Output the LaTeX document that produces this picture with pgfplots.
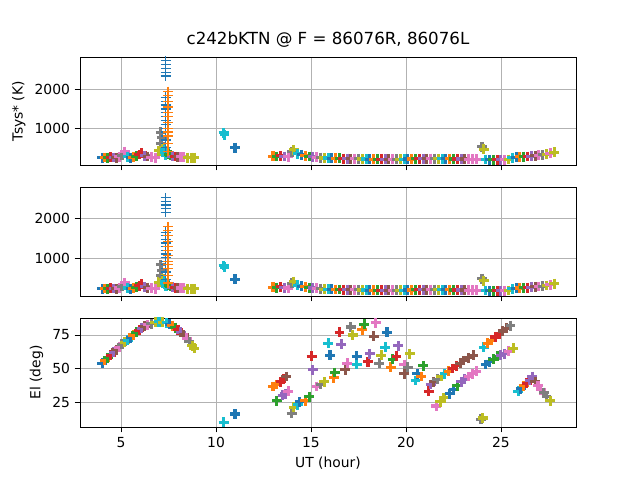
\documentclass[border=0pt]{standalone}
\usepackage{pgfplots}
\pgfplotsset{compat=1.18}
\usepackage{pgfplotstable}
\usepackage{fontspec}
\setmainfont{DejaVu Sans}
\definecolor{c0}{HTML}{1F77B4}\definecolor{c1}{HTML}{FF7F0E}\definecolor{c2}{HTML}{2CA02C}
\definecolor{c3}{HTML}{D62728}\definecolor{c4}{HTML}{9467BD}\definecolor{c5}{HTML}{8C564B}
\definecolor{c6}{HTML}{E377C2}\definecolor{c7}{HTML}{7F7F7F}\definecolor{c8}{HTML}{BCBD22}
\definecolor{c9}{HTML}{17BECF}
\pgfplotstableread{
x y c
4.0 240 c0
4.15 245 c1
4.3 240 c2
4.45 250 c3
4.6 245 c4
4.75 240 c5
4.9 260 c6
5.05 300 c7
5.2 400 c6
5.35 260 c9
5.5 240 c0
5.65 250 c1
5.8 280 c2
5.95 320 c3
6.1 360 c3
6.25 290 c4
6.4 270 c5
6.6 250 c6
6.8 240 c6
7.0 420 c8
7.1 600 c7
7.1 900 c7
7.15 750 c7
7.2 500 c8
7.3 380 c9
7.4 320 c9
7.35 300 c9
7.3 450 c9
7.5 330 c2
7.6 300 c2
7.7 280 c4
7.85 270 c3
8.0 260 c5
8.15 260 c6
8.3 250 c6
8.5 240 c8
8.7 240 c8
8.85 240 c8
7.35 500 t0
7.35 600 t0
7.35 700 t0
7.35 800 t0
7.35 900 t0
7.35 1000 t0
7.35 1100 t0
7.35 1200 t0
7.35 1300 t0
7.35 1400 t0
7.35 1500 t0
7.35 1600 t0
7.35 1700 t0
7.35 1800 t0
7.35 2350 t0
7.35 2450 t0
7.35 2550 t0
7.35 2650 t0
7.35 2750 t0
7.48 400 t1
7.48 600 t1
7.48 800 t1
7.48 900 t1
7.48 1000 t1
7.48 1150 t1
7.48 1300 t1
7.48 1400 t1
7.48 1550 t1
7.48 1700 t1
7.48 1850 t1
7.48 1950 t1
10.4 880 c9
10.45 830 c9
11.0 500 c0
13.0 280 c1
13.2 270 c2
13.4 290 c3
13.6 270 c4
13.8 260 c6
14.0 390 c7
14.1 440 c8
14.3 340 c9
14.5 310 c0
14.7 290 c1
14.9 270 c2
15.1 260 c4
15.3 250 c6
15.5 240 c7
15.7 230 c8
15.9 230 c9
16.1 225 c0
16.3 220 c1
16.5 220 c2
16.7 215 c3
16.9 215 c4
17.1 210 c5
17.3 210 c6
17.5 210 c7
17.7 205 c8
17.9 205 c9
18.1 200 c0
18.3 200 c1
18.5 200 c2
18.7 200 c3
18.9 200 c4
19.1 200 c5
19.3 200 c6
19.5 200 c7
19.7 200 c8
19.9 200 c9
20.1 205 c0
20.3 205 c1
20.5 210 c2
20.7 210 c3
20.9 215 c4
21.1 215 c5
21.3 215 c6
21.5 215 c7
21.7 210 c8
21.9 210 c9
22.1 210 c0
22.3 210 c1
22.5 205 c2
22.7 205 c3
22.9 205 c4
23.1 205 c5
23.3 200 c6
23.5 200 c6
23.7 200 c6
24.0 520 c7
24.1 460 c8
24.2 190 c9
24.4 185 c0
24.6 185 c2
24.8 185 c3
25.0 185 c4
25.2 185 c6
25.4 190 c8
25.6 240 c9
25.8 250 c0
26.0 260 c1
26.2 265 c2
26.4 270 c3
26.6 280 c4
26.8 290 c5
27.0 300 c6
27.2 310 c7
27.4 330 c8
27.6 350 c6
27.8 380 c8
}\tsys
\pgfplotstableread{
x y c
4.0 54 c0
4.15 56 c1
4.3 58 c2
4.45 60 c3
4.6 62 c4
4.75 64 c5
4.9 66 c6
5.05 68 c7
5.2 69.5 c8
5.35 71 c9
5.5 73 c0
5.65 75 c1
5.8 77 c2
5.95 78.5 c3
6.1 80 c4
6.25 81.5 c5
6.4 82.5 c6
6.6 83.5 c7
6.8 84.5 c8
7.0 85 c9
7.2 84.5 c8
7.4 84 c9
7.55 83 c0
7.7 82 c1
7.85 80.5 c2
8.0 79 c3
8.15 77 c4
8.3 75 c5
8.45 72.5 c6
8.6 70 c7
8.75 67 c8
8.85 65 c8
10.4 10 c9
11.0 16 c0
13.0 36.5 c1
13.2 38 c1
13.4 40 c3
13.55 42 c3
13.7 44 c5
13.2 26 c2
13.5 30 c4
13.65 31 c4
13.8 33 c6
13.98 16.5 c7
14.1 21 c8
14.3 23 c9
14.4 25 c0
14.7 26 c1
14.9 29 c2
15.03 59 c3
15.1 49 c4
15.3 36.5 c6
15.5 38 c7
15.7 40 c8
15.9 69 c9
16.0 60 c0
16.2 43 c1
16.25 47 c2
16.5 77 c3
16.6 68 c4
16.8 49 c5
16.9 54 c6
17.1 81 c7
17.2 75 c8
17.4 59 c0
17.4 53 c9
17.7 79 c1
17.8 83 c2
18.0 55 c3
18.1 61 c4
18.3 74 c5
18.4 84 c6
18.6 54 c7
18.7 60 c8
19.0 77 c0
18.9 66 c9
19.2 51 c1
19.3 57 c2
19.5 59 c3
19.6 67 c4
19.9 46 c5
19.9 53 c6
20.1 51 c7
20.2 61 c8
20.5 41 c9
20.6 46 c0
20.8 44 c1
20.9 52 c2
21.2 33 c3
21.3 38 c4
21.45 40 c5
21.65 42 c7
21.85 44 c8
22.05 46 c9
22.25 48 c1
22.45 50 c3
22.65 52 c3
22.85 54 c5
23.05 56 c5
23.3 58 c5
23.55 60 c5
21.6 22 c6
21.8 25 c8
22.0 28 c8
22.3 31 c0
22.5 34 c0
22.7 37 c2
22.9 40 c4
23.1 42 c4
23.3 44 c6
23.5 46 c6
23.7 48 c6
24.1 66 c9
24.3 69 c1
24.5 71 c1
24.7 73.5 c3
24.9 76 c3
25.1 78 c5
25.3 80 c5
25.5 82 c7
23.95 12 c7
24.05 13 c8
24.2 53 c0
24.4 55 c0
24.6 57 c2
24.8 59 c2
25.0 60 c4
25.2 61 c4
25.4 63 c6
25.65 65 c8
25.9 33 c9
26.05 35 c0
26.2 37 c1
26.35 39 c3
26.5 41 c4
26.65 44 c4
26.8 40 c5
26.95 37 c6
27.1 34 c6
27.25 32 c7
27.4 29 c7
27.6 26 c8
}\elev
\pgfplotsset{
  every axis/.append style={
    width=372pt, scale only axis, xmin=2.84, xmax=28.95,
    xtick={5,10,15,20,25}, grid=major, grid style={color=black!30, line width=0.6pt},
    tick label style={font=\fontsize{10.4}{12}\selectfont},
    label style={font=\fontsize{10.4}{12}\selectfont},
    tick align=outside, tick style={black, line width=0.6pt}, major tick length=4pt,
    xtick pos=bottom, ytick pos=left,
    axis line style={line width=0.6pt},
    /pgf/number format/assume math mode=true,
    /pgf/number format/1000 sep={},
    only marks, scatter, point meta=explicit symbolic,
    scatter/classes={
      c0={mark=+,draw=c0,line width=2.3pt},c1={mark=+,draw=c1,line width=2.3pt},
      c2={mark=+,draw=c2,line width=2.3pt},c3={mark=+,draw=c3,line width=2.3pt},
      c4={mark=+,draw=c4,line width=2.3pt},c5={mark=+,draw=c5,line width=2.3pt},
      c6={mark=+,draw=c6,line width=2.3pt},c7={mark=+,draw=c7,line width=2.3pt},
      c8={mark=+,draw=c8,line width=2.3pt},c9={mark=+,draw=c9,line width=2.3pt},
      t0={mark=+,draw=c0,line width=1.0pt},
      t1={mark=+,draw=c1,line width=1.0pt}},
    mark size=3.7pt,
  }
}
\begin{document}
\begin{tikzpicture}
\path[use as bounding box] (0,0) rectangle (480pt,360pt);
\begin{axis}[at={(60pt,236.25pt)}, anchor=south west, height=80.8pt,
  ymin=49, ymax=2839, ytick={1000,2000}, xticklabels={},
  ylabel={Tsys* (K)},
  title={c242bKTN @ F = 86076R, 86076L}, title style={font=\fontsize{12.5}{14}\selectfont, yshift=-2pt}]
\addplot table[x=x,y=y,meta=c] {\tsys};
\end{axis}
\begin{axis}[at={(60pt,138pt)}, anchor=south west, height=81.3pt,
  ymin=36, ymax=2787, ytick={1000,2000}, xticklabels={}]
\addplot table[x=x,y expr=\thisrow{y}*0.92,meta=c] {\tsys};
\end{axis}
\begin{axis}[at={(60pt,39.75pt)}, anchor=south west, height=81.75pt,
  ymin=6.3, ymax=87.7, ytick={25,50,75},
  ylabel={El (deg)}, xlabel={UT (hour)}]
\addplot table[x=x,y=y,meta=c] {\elev};
\end{axis}
\end{tikzpicture}
\end{document}
